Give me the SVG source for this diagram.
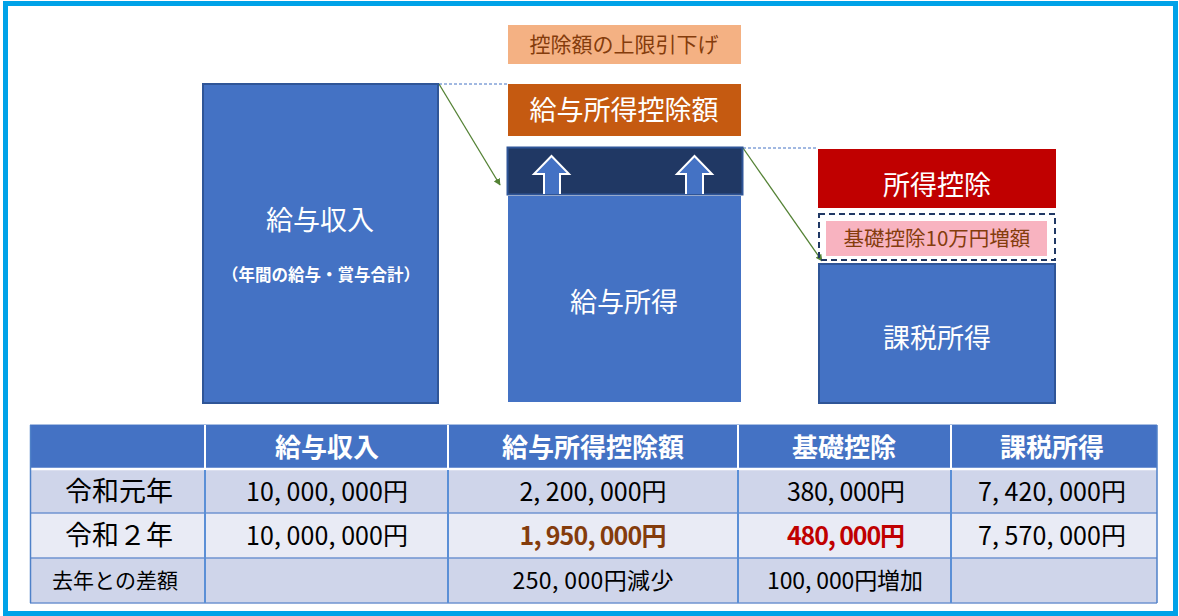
<svg xmlns="http://www.w3.org/2000/svg" width="1179" height="616" viewBox="0 0 1179 616">
<defs>
<style>
text{font-family:"Noto Sans CJK JP","Noto Sans",sans-serif;text-anchor:middle}
.box{fill:#4472C4;stroke:#2F5597;stroke-width:2}
.wt{fill:#ffffff}
.hd{fill:#ffffff;font-weight:bold;font-size:26px}
.grn{stroke:#548235;stroke-width:1.3;fill:none;marker-end:url(#ah)}
.dash{stroke:#4472C4;stroke-width:1;stroke-dasharray:3 2;fill:none}
.up{fill:#4472C4;stroke:#ffffff;stroke-width:2}
</style>
<marker id="ah" viewBox="0 0 10 10" refX="9" refY="5" markerWidth="7" markerHeight="7" orient="auto" markerUnits="userSpaceOnUse">
<path d="M0,0 L10,5 L0,10 z" fill="#548235"/>
</marker>
</defs>
<rect x="0" y="0" width="1179" height="616" fill="#ffffff"/>
<rect x="5.5" y="3.5" width="1170" height="610" fill="none" stroke="#00A2E8" stroke-width="5"/>

<g id="connectors">
<line class="dash" x1="439" y1="84" x2="508" y2="84"/>
<line class="grn" x1="439" y1="84" x2="500" y2="185"/>
<line class="dash" x1="743" y1="148" x2="818" y2="148"/>
<line class="grn" x1="743" y1="148" x2="822" y2="261"/>
</g>

<g id="node-income">
<rect class="box" x="203" y="84" width="235" height="319"/>
<text class="wt" x="320" y="230" font-size="27">給与収入</text>
<text class="wt" x="321" y="281" font-size="16.5" font-weight="bold">（年間の給与・賞与合計）</text>
</g>

<g id="node-cut">
<rect x="508" y="25" width="233" height="39" fill="#F4B183"/>
<text x="624" y="52" font-size="21" fill="#843C0C">控除額の上限引下げ</text>
</g>

<g id="node-deduction">
<rect x="508" y="84" width="233" height="52" fill="#C55A11"/>
<text class="wt" x="624" y="120" font-size="27">給与所得控除額</text>
</g>

<g id="node-increase">
<rect x="507.5" y="147.5" width="235" height="47" fill="#203864" stroke="#2F5597" stroke-width="2"/>
<path class="up" d="M544,194 L544,174 L534,174 L551.5,156 L569,174 L560,174 L560,194"/>
<path class="up" d="M686,194 L686,174 L677,174 L694.5,156 L712,174 L703,174 L703,194"/>
</g>

<g id="node-salary-income">
<rect x="508" y="196" width="233" height="206" fill="#4472C4"/>
<text class="wt" x="624" y="312" font-size="27">給与所得</text>
</g>

<g id="node-income-deduction">
<rect x="818" y="149" width="238" height="59" fill="#C00000"/>
<text class="wt" x="937" y="195" font-size="27">所得控除</text>
</g>

<g id="node-basic">
<rect x="819" y="214" width="236" height="46" fill="none" stroke="#203864" stroke-width="2" stroke-dasharray="6 4"/>
<rect x="826" y="221" width="221" height="35" fill="#F8B3C0"/>
<text x="937" y="246" font-size="20.5" fill="#843C0C">基礎控除10万円増額</text>
</g>

<g id="node-taxable">
<rect class="box" x="819" y="264" width="236" height="139"/>
<text class="wt" x="937" y="348" font-size="27">課税所得</text>
</g>

<g id="table">
<rect x="30" y="425" width="1127" height="44" fill="#4472C4"/>
<rect x="30" y="469" width="1127" height="44" fill="#CFD5EA"/>
<rect x="30" y="513" width="1127" height="45" fill="#E9EBF5"/>
<rect x="30" y="558" width="1127" height="45" fill="#CFD5EA"/>
<line x1="30" y1="424.5" x2="1157" y2="424.5" stroke="#A9BFE3" stroke-width="1"/>
<line x1="30" y1="469" x2="1157" y2="469" stroke="#ffffff" stroke-width="2.5"/>
<line x1="30" y1="513" x2="1157" y2="513" stroke="#6F93D1" stroke-width="1.5"/>
<line x1="30" y1="558" x2="1157" y2="558" stroke="#6F93D1" stroke-width="1.5"/>
<line x1="30" y1="603" x2="1157" y2="603" stroke="#6F93D1" stroke-width="1.5"/>
<line x1="30.5" y1="425" x2="30.5" y2="603" stroke="#4F81C8" stroke-width="1.5"/>
<line x1="1157" y1="425" x2="1157" y2="603" stroke="#4F81C8" stroke-width="1.5"/>
<g stroke="#ffffff" stroke-width="2">
<line x1="205" y1="425" x2="205" y2="468"/>
<line x1="448" y1="425" x2="448" y2="468"/>
<line x1="738" y1="425" x2="738" y2="468"/>
<line x1="951" y1="425" x2="951" y2="468"/>
</g>
<g stroke="#5B8FD6" stroke-width="2">
<line x1="205" y1="470" x2="205" y2="603"/>
<line x1="448" y1="470" x2="448" y2="603"/>
<line x1="738" y1="470" x2="738" y2="603"/>
<line x1="951" y1="470" x2="951" y2="603"/>
</g>
<text class="hd" x="327" y="457">給与収入</text>
<text class="hd" x="593" y="457">給与所得控除額</text>
<text class="hd" x="844" y="457">基礎控除</text>
<text class="hd" x="1052" y="457">課税所得</text>

<g fill="#000000" font-size="25">
<text x="119" y="501" font-size="27">令和元年</text>
<text x="327" y="501" textLength="162">10, 000, 000円</text>
<text x="593" y="501" textLength="147">2, 200, 000円</text>
<text x="846" y="501" textLength="118">380, 000円</text>
<text x="1052" y="501" textLength="148">7, 420, 000円</text>

<text x="119" y="545" font-size="27">令和２年</text>
<text x="327" y="545" textLength="162">10, 000, 000円</text>
<text x="1052" y="545" textLength="148">7, 570, 000円</text>

<text x="115" y="588" font-size="21">去年との差額</text>
<text x="593" y="589" font-size="23" textLength="161">250, 000円減少</text>
<text x="845" y="589" font-size="23" textLength="156">100, 000円増加</text>
</g>
<text x="593" y="545" font-size="25" textLength="147" font-weight="bold" fill="#843C0C">1, 950, 000円</text>
<text x="846" y="545" font-size="25" textLength="118" font-weight="bold" fill="#C00000">480, 000円</text>
</g>
</svg>
